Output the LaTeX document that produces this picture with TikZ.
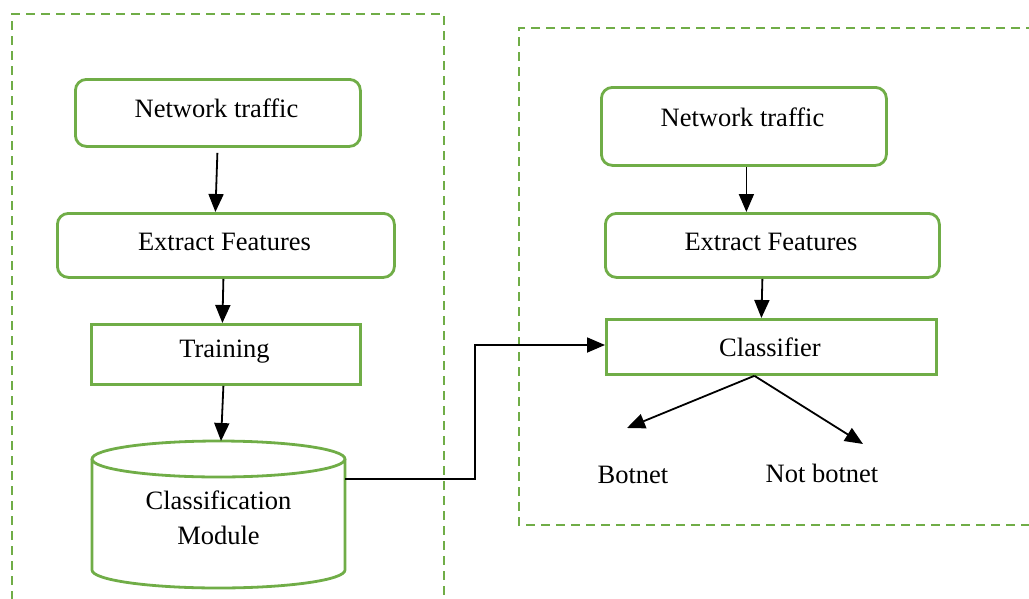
\documentclass[tikz,border=0pt]{standalone}
\usepackage{fontspec}
\setmainfont{Liberation Serif}
\usetikzlibrary{arrows.meta}
\definecolor{boxgreen}{HTML}{70AD47}
\tikzset{
  rbox/.style={draw=boxgreen, line width=2.8pt, rounded corners=11pt, inner sep=0pt, anchor=north west},
  sbox/.style={draw=boxgreen, line width=2.8pt, inner sep=0pt, anchor=north west},
  frame/.style={draw=boxgreen, line width=2.6pt, dash pattern=on 9pt off 6pt},
  flow/.style={draw=black, line width=1.8pt, -{Triangle[length=18pt,width=15pt]}},
  txt/.style={font=\fontsize{26.5}{31}\selectfont, inner sep=0pt},
}
\begin{document}
\begin{tikzpicture}[x=1pt,y=-1pt]
\useasboundingbox (0,0) rectangle (1029,598);
% frames
\draw[frame] (12,600) -- (12,14) -- (444,14) -- (444,600);
\draw[frame] (1035,28) -- (519,28) -- (519,525) -- (1035,525);
% left column
\node[rbox, minimum width=285pt, minimum height=67pt] (ntL) at (74,78) {};
\node[txt] at (216.5,108) {Network traffic};
\node[rbox, minimum width=337pt, minimum height=64pt] (efL) at (56,212) {};
\node[txt] at (224.5,242) {Extract Features};
\node[sbox, minimum width=269pt, minimum height=60pt] (tr) at (90,323) {};
\node[txt] at (224.5,352) {Training};
% cylinder
\draw[boxgreen, line width=2.8pt, fill=white] (92,459) -- (92,570) arc[start angle=180, end angle=0, x radius=126.5, y radius=18] -- (345,459);
\draw[boxgreen, line width=2.8pt] (218.5,459) ellipse [x radius=126.5, y radius=18];
\node[txt, align=center] (cm) at (218.5,518) {Classification\\[4pt]Module};
\coordinate (cmout) at (345,479);
\coordinate (cmtop) at (221,441);
% right column
\node[rbox, minimum width=285pt, minimum height=78pt] (ntR) at (600,86) {};
\node[txt] at (742.5,117) {Network traffic};
\node[rbox, minimum width=334pt, minimum height=64pt] (efR) at (604,212) {};
\node[txt] at (771,242) {Extract Features};
\node[sbox, minimum width=330pt, minimum height=55pt] (cls) at (605,318) {};
\node[txt] at (770,347) {Classifier};
\node[txt] (bot) at (633,475) {Botnet};
\node[txt] (nbot) at (822,473) {Not botnet};
\coordinate (botin) at (627,428);
\coordinate (nbotin) at (863,444);
% arrows
\draw[flow] ([xshift=-0.5pt,yshift=-5pt]ntL.south) -- ([xshift=-10.5pt]efL.north);
\draw[flow] ([xshift=-2.5pt]efL.south) -- ([xshift=-3.5pt]tr.north);
\draw[flow] ([xshift=-2.5pt]tr.south) -- (cmtop);
\draw[flow] ([xshift=2.5pt]ntR.south) -- ([xshift=-26pt]efR.north);
\draw[flow] ([xshift=-10pt]efR.south) -- ([xshift=-10pt]cls.north);
\draw[flow] (cmout) -- (475,479) -- (475,345) -- (cls.west |- 0,345);
\draw[flow] ([xshift=-17pt]cls.south) -- (botin);
\draw[flow] ([xshift=-17pt]cls.south) -- (nbotin);
\end{tikzpicture}
\end{document}
